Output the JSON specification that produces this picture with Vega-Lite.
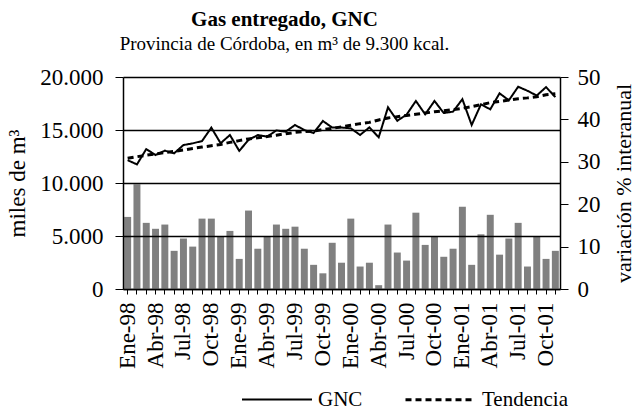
{
  "$schema": "https://vega.github.io/schema/vega-lite/v6.json",
  "width": 437,
  "height": 212,
  "autosize": {"type": "none"},
  "padding": {"left": 123, "top": 77, "right": 76, "bottom": 123},
  "background": "white",
  "config": {
    "font": "Liberation Serif",
    "view": {"stroke": null},
    "axis": {"labelFont": "Liberation Serif", "titleFont": "Liberation Serif", "labelColor": "#000", "titleColor": "#000", "domainColor": "#000", "tickColor": "#000", "titleFontWeight": "normal"},
    "legend": {"labelFont": "Liberation Serif"}
  },
  "title": {
    "text": "Gas entregado, GNC",
    "subtitle": "Provincia de Córdoba, en m³ de 9.300 kcal.",
    "font": "Liberation Serif",
    "fontSize": 21,
    "fontWeight": "bold",
    "color": "#000",
    "subtitleFont": "Liberation Serif",
    "subtitleFontSize": 19,
    "subtitleColor": "#000",
    "subtitlePadding": 5,
    "anchor": "middle",
    "dx": -57,
    "offset": 12
  },
  "data": {
    "values": [
      {"mes": "Ene-98", "GNC": 12150, "Tendencia": 12330, "var": 17.0},
      {"mes": "Feb-98", "GNC": 11750, "Tendencia": 12480, "var": 24.7},
      {"mes": "Mar-98", "GNC": 13200, "Tendencia": 12620, "var": 15.6},
      {"mes": "Abr-98", "GNC": 12640, "Tendencia": 12730, "var": 14.2},
      {"mes": "May-98", "GNC": 13050, "Tendencia": 12870, "var": 15.2},
      {"mes": "Jun-98", "GNC": 12800, "Tendencia": 12990, "var": 9.0},
      {"mes": "Jul-98", "GNC": 13580, "Tendencia": 13110, "var": 11.9},
      {"mes": "Ago-98", "GNC": 13740, "Tendencia": 13260, "var": 10.0},
      {"mes": "Sep-98", "GNC": 13960, "Tendencia": 13390, "var": 16.6},
      {"mes": "Oct-98", "GNC": 15220, "Tendencia": 13510, "var": 16.6},
      {"mes": "Nov-98", "GNC": 13750, "Tendencia": 13640, "var": 12.3},
      {"mes": "Dic-98", "GNC": 14530, "Tendencia": 13830, "var": 13.7},
      {"mes": "Ene-99", "GNC": 13030, "Tendencia": 14000, "var": 7.1},
      {"mes": "Feb-99", "GNC": 14060, "Tendencia": 14160, "var": 18.5},
      {"mes": "Mar-99", "GNC": 14530, "Tendencia": 14260, "var": 9.5},
      {"mes": "Abr-99", "GNC": 14370, "Tendencia": 14380, "var": 12.3},
      {"mes": "May-99", "GNC": 14960, "Tendencia": 14510, "var": 15.2},
      {"mes": "Jun-99", "GNC": 14840, "Tendencia": 14650, "var": 14.2},
      {"mes": "Jul-99", "GNC": 15470, "Tendencia": 14770, "var": 14.7},
      {"mes": "Ago-99", "GNC": 15000, "Tendencia": 14860, "var": 9.5},
      {"mes": "Sep-99", "GNC": 14720, "Tendencia": 14900, "var": 5.7},
      {"mes": "Oct-99", "GNC": 15850, "Tendencia": 15050, "var": 3.7},
      {"mes": "Nov-99", "GNC": 15230, "Tendencia": 15150, "var": 10.9},
      {"mes": "Dic-99", "GNC": 15230, "Tendencia": 15300, "var": 6.2},
      {"mes": "Ene-00", "GNC": 15160, "Tendencia": 15450, "var": 16.6},
      {"mes": "Feb-00", "GNC": 14530, "Tendencia": 15600, "var": 5.3},
      {"mes": "Mar-00", "GNC": 15250, "Tendencia": 15720, "var": 6.2},
      {"mes": "Abr-00", "GNC": 14310, "Tendencia": 15950, "var": 0.9},
      {"mes": "May-00", "GNC": 17140, "Tendencia": 16140, "var": 15.2},
      {"mes": "Jun-00", "GNC": 15870, "Tendencia": 16250, "var": 8.6},
      {"mes": "Jul-00", "GNC": 16450, "Tendencia": 16370, "var": 6.7},
      {"mes": "Ago-00", "GNC": 17740, "Tendencia": 16480, "var": 18.0},
      {"mes": "Sep-00", "GNC": 16480, "Tendencia": 16600, "var": 10.4},
      {"mes": "Oct-00", "GNC": 17740, "Tendencia": 16720, "var": 12.3},
      {"mes": "Nov-00", "GNC": 16600, "Tendencia": 16820, "var": 7.6},
      {"mes": "Dic-00", "GNC": 16730, "Tendencia": 16930, "var": 9.5},
      {"mes": "Ene-01", "GNC": 17910, "Tendencia": 17040, "var": 19.4},
      {"mes": "Feb-01", "GNC": 15470, "Tendencia": 17200, "var": 5.7},
      {"mes": "Mar-01", "GNC": 17420, "Tendencia": 17390, "var": 12.9},
      {"mes": "Abr-01", "GNC": 16950, "Tendencia": 17580, "var": 17.5},
      {"mes": "May-01", "GNC": 18460, "Tendencia": 17700, "var": 8.1},
      {"mes": "Jun-01", "GNC": 17800, "Tendencia": 17820, "var": 11.9},
      {"mes": "Jul-01", "GNC": 19080, "Tendencia": 17950, "var": 15.6},
      {"mes": "Ago-01", "GNC": 18700, "Tendencia": 18030, "var": 5.3},
      {"mes": "Sep-01", "GNC": 18250, "Tendencia": 18140, "var": 12.3},
      {"mes": "Oct-01", "GNC": 19050, "Tendencia": 18330, "var": 7.1},
      {"mes": "Nov-01", "GNC": 18100, "Tendencia": 18420, "var": 9.0}
    ]
  },
  "encoding": {
    "x": {
      "field": "mes",
      "type": "ordinal",
      "sort": null,
      "scale": {"paddingInner": 0.25, "paddingOuter": 0.125},
      "axis": {
        "title": null,
        "labelFont": "Liberation Serif",
        "labelAngle": -90,
        "labelAlign": "right",
        "labelBaseline": "middle",
        "labelFontSize": 23,
        "labelPadding": 8,
        "tickSize": 5,
        "domainWidth": 1.5,
        "labelOverlap": false,
        "labelExpr": "indexof(['Ene','Abr','Jul','Oct'], slice(datum.label, 0, 3)) >= 0 ? datum.label : ''"
      }
    }
  },
  "layer": [
    {
      "mark": {"type": "bar", "color": "#808080"},
      "encoding": {
        "y": {
          "field": "var",
          "type": "quantitative",
          "scale": {"domain": [0, 50], "nice": false},
          "axis": {
            "orient": "right",
            "title": "variación % interanual",
            "titleFont": "Liberation Serif",
            "labelFont": "Liberation Serif",
            "titleFontSize": 22,
            "titleAngle": 270,
            "titleX": 63,
            "titleY": 106,
            "titleAlign": "center",
            "titleBaseline": "middle",
            "values": [0, 10, 20, 30, 40, 50],
            "grid": false,
            "labelFontSize": 23,
            "tickSize": 8,
            "labelPadding": 9,
            "domainWidth": 1.5
          }
        }
      }
    },
    {
      "transform": [{"fold": ["GNC", "Tendencia"], "as": ["serie", "valor"]}],
      "mark": {"type": "line"},
      "encoding": {
        "y": {
          "field": "valor",
          "type": "quantitative",
          "scale": {"domain": [0, 20000], "nice": false},
          "axis": {
            "orient": "left",
            "title": "miles de m³",
            "titleFont": "Liberation Serif",
            "labelFont": "Liberation Serif",
            "titleFontSize": 23,
            "titleAngle": 270,
            "titleX": -106,
            "titleY": 106,
            "titleAlign": "center",
            "titleBaseline": "middle",
            "values": [0, 5000, 10000, 15000, 20000],
            "labelExpr": "replace(format(datum.value, ','), ',', '.')",
            "labelFontSize": 23,
            "tickSize": 8,
            "labelPadding": 12,
            "grid": true,
            "gridColor": "#000",
            "gridWidth": 1.5,
            "domainWidth": 1.5,
            "zindex": 1
          }
        },
        "color": {
          "field": "serie",
          "type": "nominal",
          "scale": {"domain": ["GNC", "Tendencia"], "range": ["#000", "#000"]},
          "legend": {
            "orient": "none",
            "legendX": 118,
            "legendY": 286,
            "direction": "horizontal",
            "title": null,
            "symbolType": "stroke",
            "symbolSize": 4900,
            "symbolStrokeWidth": 2,
            "labelFontSize": 21,
            "labelFont": "Liberation Serif",
            "labelColor": "#000",
            "labelOffset": 5,
            "columnPadding": 36
          }
        },
        "strokeDash": {
          "field": "serie",
          "type": "nominal",
          "scale": {"domain": ["GNC", "Tendencia"], "range": [[1, 0], [6, 4]]}
        },
        "strokeWidth": {
          "field": "serie",
          "type": "nominal",
          "scale": {"domain": ["GNC", "Tendencia"], "range": [2, 3]},
          "legend": null
        }
      }
    }
  ],
  "resolve": {"scale": {"y": "independent"}}
}
